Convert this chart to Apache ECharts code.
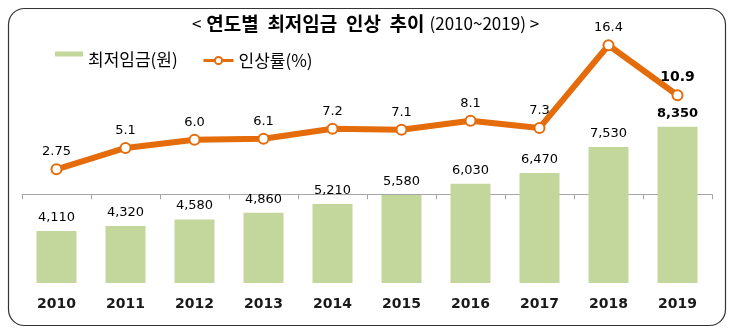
<!DOCTYPE html>
<html><head><meta charset="utf-8">
<script src="https://cdn.jsdelivr.net/npm/echarts@6/dist/echarts.min.js"></script>
<style>html,body{margin:0;padding:0;background:#fff}#c{width:731px;height:332px}</style>
</head><body><div id="c"></div>
<script>
const years = ['2010','2011','2012','2013','2014','2015','2016','2017','2018','2019'];
const wage = [4110,4320,4580,4860,5210,5580,6030,6470,7530,8350];
const rate = [2.75,5.1,6.0,6.1,7.2,7.1,8.1,7.3,16.4,10.9];
const rateLabels = ['2.75','5.1','6.0','6.1','7.2','7.1','8.1','7.3','16.4','10.9'];
const titleMain = '연도별 최저임금 인상 추이';
const titleSub = '(2010~2019)';
const seriesNames = ['최저임금(원)','인상률(%)'];

const chart = echarts.init(document.getElementById('c'), null, {renderer:'canvas'});
const last = wage.length - 1;
chart.setOption({
  animation:false,
  backgroundColor:'#fff',
  graphic:[{type:'rect',shape:{x:8.5,y:8.5,width:717,height:317,r:16},style:{fill:'none',stroke:'#333',lineWidth:1.2},z:-1}],
  title:{
    text:'{a|<} {b|'+titleMain.split(' ').join('  ')+'} {a|'+titleSub+' >}',
    left:'center', top:9,
    textStyle:{rich:{
      a:{fontFamily:'Noto Sans CJK KR',fontSize:17,fontWeight:'normal',color:'#000'},
      b:{fontFamily:'Noto Sans CJK KR',fontSize:19,fontWeight:'bold',color:'#000'}
    }}
  },
  legend:[
    {
      left:55, top:51, padding:0, itemWidth:28, itemHeight:16,
      textStyle:{fontFamily:'Noto Sans CJK KR',fontSize:17,color:'#000'},
      data:[{name:seriesNames[0],icon:'path://M0,0H28V5H0Z M0,15.9H0.1V16H0Z'}]
    },
    {
      left:202, top:52, padding:0, itemWidth:30, itemHeight:9,
      lineStyle:{width:3},
      textStyle:{fontFamily:'Noto Sans CJK KR',fontSize:17,color:'#000'},
      data:[{name:seriesNames[1]}]
    }
  ],
  grid:{left:22,right:19,top:30,bottom:49},
  xAxis:{
    type:'category', data:years, boundaryGap:true,
    axisLine:{lineStyle:{color:'#a6a6a6',width:1}},
    axisTick:{show:true,length:5,lineStyle:{color:'#a6a6a6'}},
    axisLabel:{fontFamily:'DejaVu Sans',fontSize:14,fontWeight:'bold',color:'#1a1a1a',margin:14}
  },
  yAxis:[
    {type:'value',min:2000,max:12285,show:false,splitLine:{show:false}},
    {type:'value',min:-9.77,max:18.08,show:false,splitLine:{show:false}}
  ],
  series:[
    {
      name:seriesNames[0], type:'bar', yAxisIndex:0, barWidth:40,
      itemStyle:{color:'#c3d69b'},
      data:wage.map((v,i)=>({value:v,label:i===last?{fontWeight:'bold'}:{}})),
      label:{show:true,position:'top',distance:7,fontFamily:'DejaVu Sans',fontSize:13,color:'#000',
        formatter:p=>p.value.toLocaleString('en-US')}
    },
    {
      name:seriesNames[1], type:'line', yAxisIndex:1, z:5,
      lineStyle:{color:'#e46c0a',width:6},
      itemStyle:{color:'#fff',borderColor:'#e46c0a',borderWidth:2},
      symbol:'circle', symbolSize:10,
      data:rate.map((v,i)=>({value:v,label:(i===last)?{fontWeight:'bold',fontSize:14}:{}})),
      label:{show:true,position:'top',distance:5,fontFamily:'DejaVu Sans',fontSize:13,color:'#000',
        formatter:p=>rateLabels[p.dataIndex]}
    }
  ]
});
</script></body></html>
